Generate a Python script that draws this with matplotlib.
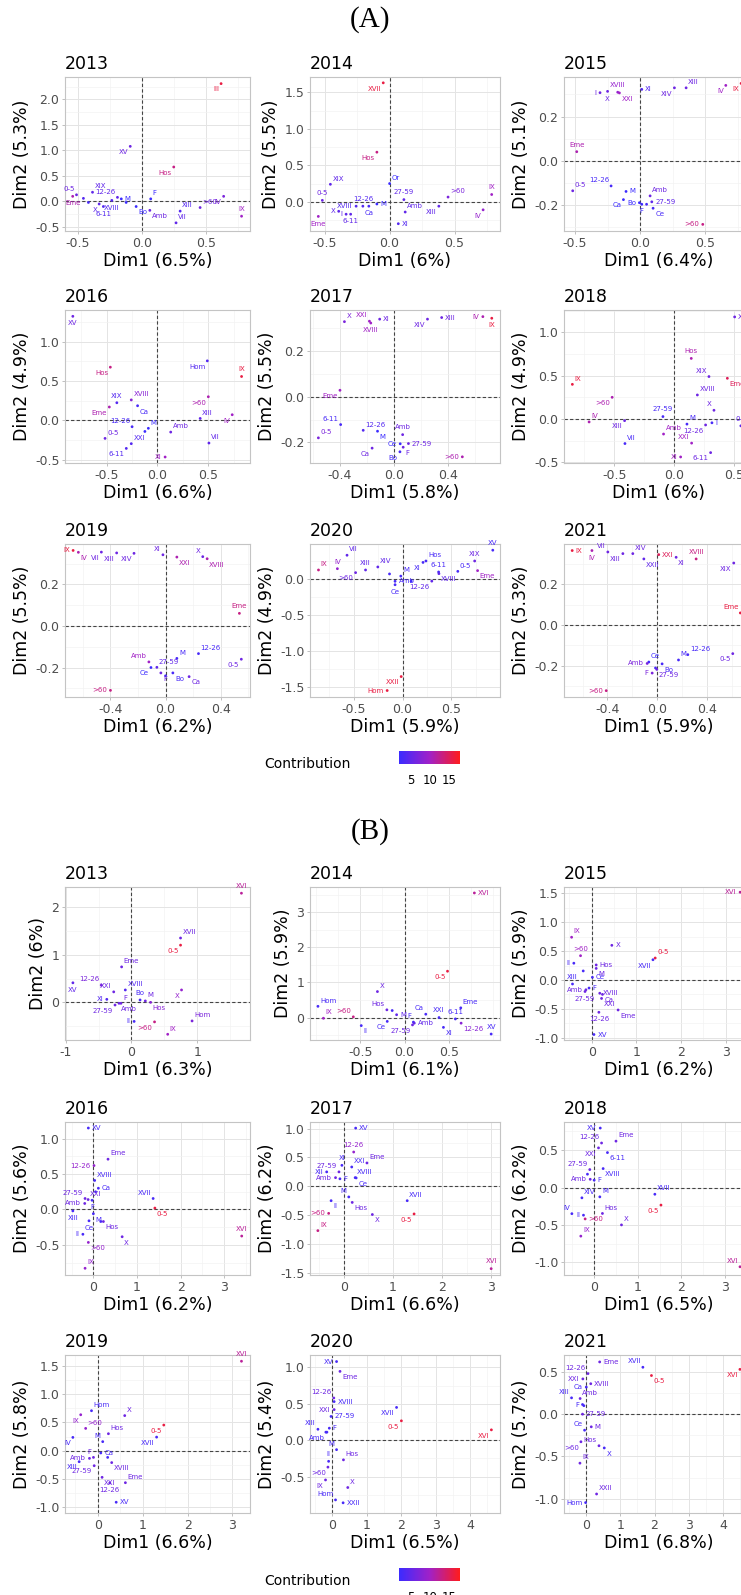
import numpy as np
import matplotlib
matplotlib.use("Agg")
import matplotlib.pyplot as plt
from matplotlib.colors import LinearSegmentedColormap, Normalize
from matplotlib.ticker import FixedLocator, AutoMinorLocator, FormatStrFormatter
import matplotlib.cm as cm

# ---------------- data: (label, Dim1, Dim2, contribution) ----------------
A2013 = [("III", 0.62, 2.31, 16), ("XV", -0.09, 1.08, 6), ("Hos", 0.25, 0.675, 13),
         ("XIX", -0.385, 0.18, 5), ("0-5", -0.51, 0.13, 6), ("Eme", -0.54, 0.10, 11),
         ("12-26", -0.19, 0.08, 5), ("M", -0.16, 0.05, 2), ("X", -0.333, -0.05, 5),
         ("XVIII", -0.234, 0.02, 4), ("6-11", -0.30, -0.10, 4), ("Bo", -0.044, -0.10, 2),
         ("F", 0.07, 0.05, 2), ("Amb", 0.063, -0.175, 6), ("XIII", 0.30, -0.19, 4),
         ("VII", 0.268, -0.42, 5), (">60", 0.456, -0.12, 6), ("IV", 0.64, 0.10, 7),
         ("IX", 0.78, -0.29, 10), ("", -0.456, 0.06, 4), ("", -0.417, -0.02, 3),
         ("", -0.122, -0.02, 2)]
A2013_pos = "dl dl dl ur ul d ul r dl d d dr ur dr ur ur ur dl u - - -"

A2014 = [("XVII", -0.049, 1.63, 16), ("Hos", -0.098, 0.68, 13), ("XIX", -0.456, 0.24, 5),
         ("Or", 0.0, 0.25, 2), ("0-5", -0.518, 0.02, 6), ("Eme", -0.549, -0.20, 10),
         ("X", -0.392, -0.13, 5), ("I", -0.335, -0.17, 5), ("6-11", -0.30, -0.17, 5),
         ("XVIII", -0.258, -0.06, 4), ("12-26", -0.206, -0.06, 4), ("Ca", -0.16, -0.06, 3),
         ("M", -0.098, -0.03, 2), ("27-59", 0.11, 0.03, 5), ("Amb", 0.12, -0.14, 5),
         ("XI", 0.067, -0.30, 4), ("XIII", 0.379, -0.06, 5), (">60", 0.45, 0.065, 7),
         ("IV", 0.72, -0.11, 9), ("IX", 0.786, 0.10, 10)]
A2014_pos = "dl dl ur ur u d l l d l u d r u ur r dl ur dl u"

A2015 = [("I", -0.308, 0.308, 6), ("X", -0.25, 0.314, 6), ("XVIII", -0.172, 0.31, 9),
         ("XXI", -0.159, 0.307, 10), ("XI", 0.013, 0.323, 4), ("XIV", 0.264, 0.33, 6),
         ("XIII", 0.354, 0.33, 6), ("IV", 0.659, 0.341, 10), ("IX", 0.777, 0.35, 16),
         ("Eme", -0.487, 0.041, 11), ("0-5", -0.518, -0.136, 6), ("12-26", -0.223, -0.114, 3),
         ("M", -0.108, -0.139, 2), ("Ca", -0.128, -0.176, 2), ("Bo", -0.005, -0.19, 2),
         ("F", 0.013, -0.197, 2), ("", 0.05, -0.197, 3), ("Amb", 0.077, -0.159, 6),
         ("27-59", 0.09, -0.186, 5), ("Ce", 0.10, -0.215, 3), (">60", 0.482, -0.288, 13)]
A2015_pos = "l d u dr r dl ur dl dl u ur ul r dl l d - ur r dr l"

A2016 = [("XV", -0.833, 1.32, 6), ("Hos", -0.464, 0.675, 13), ("Hom", 0.49, 0.755, 4),
         ("IX", 0.827, 0.557, 16), ("XIX", -0.40, 0.224, 4), ("XVIII", -0.258, 0.26, 8),
         ("Eme", -0.474, 0.17, 11), ("Ca", -0.196, 0.186, 3), (">60", 0.50, 0.30, 11),
         ("XIII", 0.42, 0.025, 5), ("IV", 0.735, 0.072, 10), ("12-26", -0.25, -0.08, 3),
         ("M", -0.09, -0.10, 2), ("", -0.124, -0.14, 2), ("XXI", -0.258, -0.295, 4),
         ("6-11", -0.307, -0.355, 4), ("0-5", -0.516, -0.228, 6), ("Amb", 0.13, -0.148, 6),
         ("VII", 0.506, -0.287, 5), ("XI", 0.075, -0.464, 10)]
A2016_pos = "d dl dl u u ur dl dr dl ur dl ul ur - ur dl ur ur ur l"

A2017 = [("X", -0.365, 0.328, 7), ("XXI", -0.18, 0.33, 10), ("XVIII", -0.17, 0.322, 10),
         ("XI", -0.104, 0.339, 6), ("XIV", 0.25, 0.339, 6), ("XIII", 0.355, 0.346, 6),
         ("IV", 0.66, 0.35, 11), ("IX", 0.726, 0.343, 16), ("Eme", -0.398, 0.028, 10),
         ("6-11", -0.393, -0.122, 3), ("12-26", -0.226, -0.147, 4), ("0-5", -0.558, -0.18, 7),
         ("M", -0.12, -0.151, 2), ("Ca", -0.16, -0.225, 6), ("Amb", 0.066, -0.166, 6),
         ("Ce", 0.048, -0.206, 2), ("F", 0.07, -0.221, 6), ("27-59", 0.109, -0.205, 6),
         ("Bo", 0.046, -0.241, 3), (">60", 0.508, -0.263, 11)]
A2017_pos = "ur ul d r dl r l d dl ul ur ur dr dl u l dr r dl l"

A2018 = [("XV", 0.508, 1.18, 6), ("IX", -0.85, 0.40, 16), ("Hos", 0.145, 0.70, 11),
         ("XIX", 0.293, 0.49, 6), ("Eme", 0.447, 0.47, 15), (">60", -0.517, 0.25, 11),
         ("XVIII", 0.196, 0.277, 6), ("X", 0.335, 0.10, 6), ("27-59", -0.092, 0.027, 3),
         ("IV", -0.71, -0.035, 11), ("XIII", -0.413, -0.02, 6), ("M", 0.109, -0.06, 3),
         ("12-26", 0.265, -0.07, 6), ("I", 0.318, -0.045, 3), ("0-5", 0.56, -0.08, 5),
         ("Amb", -0.087, -0.175, 10), ("VII", -0.41, -0.285, 3), ("XXI", 0.148, -0.28, 10),
         ("XI", 0.056, -0.44, 10), ("6-11", 0.307, -0.39, 6)]
A2018_pos = "r ur u ul dr dl ur ul u ur dl ur dl r u ur ur ul l dl"

A2019 = [("IX", -0.671, 0.364, 16), ("IV", -0.633, 0.355, 11), ("VII", -0.466, 0.356, 6),
         ("XIII", -0.355, 0.352, 6), ("XIV", -0.229, 0.35, 6), ("XI", -0.019, 0.343, 6),
         ("XXI", 0.082, 0.332, 11), ("X", 0.27, 0.334, 6), ("XVIII", 0.302, 0.324, 11),
         ("Eme", 0.536, 0.061, 13), ("12-26", 0.239, -0.133, 3), ("M", 0.082, -0.156, 3),
         ("0-5", 0.55, -0.16, 6), ("Amb", -0.121, -0.173, 10), ("27-59", -0.063, -0.199, 5),
         ("Ce", -0.106, -0.20, 2), ("F", -0.034, -0.226, 6), ("", 0.0, -0.24, 3),
         ("Bo", 0.053, -0.226, 3), ("Ca", 0.171, -0.244, 6), (">60", -0.40, -0.31, 13)]
A2019_pos = "l dr dl dl dl ul dr ul dr u ur ur dl ul ur dl dr - dr dr l"

A2020 = [("VII", -0.57, 0.33, 5), ("IX", -0.863, 0.125, 13), ("IV", -0.669, 0.143, 9),
         (">60", -0.482, 0.088, 6), ("XIII", -0.38, 0.125, 5), ("XIV", -0.254, 0.167, 5),
         ("", -0.134, 0.07, 3), ("M", -0.018, 0.04, 3), ("Amb", -0.077, -0.032, 3),
         ("Ce", -0.077, -0.08, 3), ("", 0.088, -0.032, 2), ("XI", 0.21, 0.23, 3),
         ("Hos", 0.24, 0.25, 3), ("12-26", 0.30, -0.03, 5), ("6-11", 0.37, 0.097, 3),
         ("XVIII", 0.373, 0.074, 5), ("0-5", 0.567, 0.106, 3), ("XIX", 0.74, 0.25, 6),
         ("XV", 0.926, 0.40, 3), ("Eme", 0.77, 0.116, 10), ("XXII", -0.014, -1.356, 16),
         ("Hom", -0.158, -1.55, 16)]
A2020_pos = "ur ur u dl u ur - ur r d - dl ur dl u dr ur u u dr dl l"

A2021 = [("IX", -0.684, 0.364, 16), ("IV", -0.525, 0.364, 11), ("VII", -0.397, 0.357, 6),
         ("XIII", -0.276, 0.349, 6), ("XIV", -0.196, 0.349, 6), ("XXII", -0.107, 0.323, 5),
         ("XXI", 0.013, 0.344, 15), ("XI", 0.153, 0.331, 6), ("XVIII", 0.314, 0.323, 13),
         ("XIX", 0.617, 0.303, 6), ("Eme", 0.67, 0.059, 16), ("12-26", 0.247, -0.145, 3),
         ("M", 0.172, -0.171, 3), ("0-5", 0.609, -0.14, 6), ("Ce", -0.067, -0.181, 2),
         ("Amb", -0.08, -0.188, 7), ("Bo", 0.04, -0.19, 3), ("", -0.013, -0.21, 3),
         ("F", -0.04, -0.235, 7), ("27-59", -0.003, -0.217, 6), (">60", -0.41, -0.321, 13)]
A2021_pos = "r d ul dl ur dr r dr u dl ul ur ur dl ur l dr - l dr l"

B2013 = [("XVI", 1.67, 2.29, 12), ("XVII", 0.745, 1.35, 6), ("0-5", 0.745, 1.20, 16),
         ("Eme", -0.15, 0.744, 6), ("XV", -0.89, 0.41, 5), ("12-26", -0.46, 0.36, 7),
         ("XXI", -0.27, 0.22, 6), ("XVIII", -0.094, 0.26, 4), ("XI", -0.375, 0.063, 4),
         ("X", 0.76, 0.26, 9), ("Bo", 0.13, 0.05, 3), ("M", 0.21, 0.03, 6),
         ("Hos", 0.29, 0.0, 8), ("F", -0.16, -0.02, 6), ("27-59", -0.25, -0.056, 6),
         ("Amb", -0.19, -0.02, 6), ("Hom", 0.92, -0.39, 7), ("II", 0.04, -0.40, 3),
         (">60", 0.35, -0.41, 13), ("IX", 0.55, -0.67, 10)]
B2013_pos = "u ur dl ur d ul ul ur l dl u ur dr ur dl dr ur l dl ur"

B2014 = [("XVI", 0.79, 3.55, 12), ("0-5", 0.486, 1.32, 16), ("X", -0.307, 0.74, 6),
         ("Hom", -0.98, 0.32, 3), ("Hos", -0.20, 0.22, 6), ("", -0.14, 0.20, 3),
         ("M", -0.09, 0.08, 5), ("IX", -0.918, -0.02, 10), (">60", -0.58, 0.02, 13),
         ("Ca", 0.24, 0.095, 3), ("XXI", 0.39, 0.0, 3), ("6-11", 0.575, -0.04, 3),
         ("Eme", 0.636, 0.276, 3), ("F", 0.1, -0.13, 3), ("Amb", 0.11, -0.16, 5),
         ("27-59", 0.09, -0.21, 6), ("II", -0.49, -0.23, 3), ("Ce", -0.196, -0.11, 3),
         ("XI", 0.44, -0.28, 3), ("12-26", 0.64, -0.16, 8), ("XV", 0.98, -0.47, 3)]
B2014_pos = "r dl ur ur ul - r ur ul ul u u ur ul r dl dr dl dr dr u"

B2015 = [("XVI", 3.32, 1.52, 12), ("IX", -0.45, 0.74, 10), ("X", 0.45, 0.60, 6),
         (">60", -0.25, 0.42, 10), ("0-5", 1.42, 0.38, 16), ("XVII", 1.37, 0.35, 3),
         ("II", -0.40, 0.29, 3), ("Hos", 0.10, 0.26, 6), ("M", 0.10, 0.20, 6),
         ("", -0.19, 0.156, 3), ("Ce", 0.015, 0.046, 3), ("XIII", -0.43, -0.07, 3),
         ("Amb", -0.13, -0.17, 6), ("F", -0.06, -0.14, 3), ("27-59", -0.15, -0.20, 6),
         ("XVIII", 0.18, -0.23, 6), ("XXI", 0.22, -0.32, 6), ("Ca", 0.24, -0.25, 6),
         ("Eme", 0.59, -0.52, 6), ("12-26", 0.16, -0.56, 6), ("XV", 0.05, -0.945, 3)]
B2015_pos = "l ur r u ur dl l r dr - r u l r d r dr dr dr d r"

B2016 = [("XV", -0.115, 1.15, 3), ("Eme", 0.336, 0.71, 6), ("12-26", 0.015, 0.62, 9),
         ("XVIII", 0.03, 0.41, 3), ("Ca", 0.115, 0.30, 3), ("", 0.05, 0.25, 3),
         ("27-59", -0.19, 0.155, 6), ("XXI", -0.12, 0.14, 6), ("F", -0.03, 0.13, 3),
         ("Amb", -0.198, 0.085, 6), ("XIII", -0.47, -0.02, 3), ("XVII", 1.37, 0.155, 3),
         ("0-5", 1.41, 0.02, 16), ("M", 0.0, -0.06, 3), ("Ce", -0.10, -0.16, 3),
         ("", 0.17, -0.17, 3), ("Hos", 0.23, -0.17, 6), ("X", 0.66, -0.385, 6),
         ("II", -0.24, -0.35, 3), (">60", -0.115, -0.465, 9), ("IX", -0.19, -0.83, 9),
         ("XVI", 3.40, -0.375, 12)]
B2016_pos = "r ur l ur r - ul ur d l d ul dr dr d - dr dr l dr ur u"

B2017 = [("XV", 0.24, 1.01, 3), ("12-26", 0.20, 0.595, 9), ("Eme", 0.47, 0.405, 6),
         ("XI", -0.04, 0.364, 3), ("XXI", 0.16, 0.335, 3), ("XVIII", 0.23, 0.15, 3),
         ("XII", -0.35, 0.25, 3), ("27-59", -0.10, 0.25, 6), ("Amb", -0.17, 0.15, 6),
         ("F", -0.08, 0.13, 3), ("Ce", 0.25, 0.145, 3), ("M", 0.10, -0.185, 3),
         ("II", -0.26, -0.25, 3), ("Hos", 0.17, -0.28, 6), ("XVII", 1.29, -0.25, 3),
         ("0-5", 1.43, -0.48, 16), ("X", 0.58, -0.49, 6), (">60", -0.31, -0.47, 13),
         ("IX", -0.53, -0.77, 13), ("XVI", 3.0, -1.43, 12)]
B2017_pos = "r u ur u ur ur l ul l r dr ul dr dr ur dl dr l ur u"

B2018 = [("XV", 0.14, 0.795, 3), ("12-26", 0.17, 0.595, 6), ("Eme", 0.50, 0.62, 6),
         ("XXI", 0.10, 0.53, 6), ("6-11", 0.305, 0.467, 3), ("27-59", -0.10, 0.24, 6),
         ("XVIII", 0.206, 0.253, 3), ("", -0.153, 0.178, 3), ("Amb", -0.09, 0.11, 6),
         ("F", 0.0, 0.098, 3), ("XIV", -0.28, -0.138, 3), ("M", 0.13, -0.125, 3),
         ("IV", -0.51, -0.35, 3), ("II", -0.244, -0.37, 3), ("Hos", 0.19, -0.347, 6),
         (">60", -0.206, -0.42, 13), ("XVII", 1.39, -0.09, 3), ("0-5", 1.53, -0.235, 16),
         ("X", 0.626, -0.50, 6), ("IX", -0.305, -0.65, 9), ("XVI", 3.34, -1.06, 12)]
B2018_pos = "l ul ur dl dr ul dr - l r ur ur ul l ur r ur dl ur ur ul"

B2019 = [("XVI", 3.2, 1.58, 12), ("Hom", -0.14, 0.706, 3), ("X", 0.6, 0.62, 6),
         ("IX", -0.38, 0.635, 9), (">60", -0.27, 0.394, 9), ("Hos", 0.237, 0.30, 6),
         ("0-5", 1.47, 0.453, 16), ("XVII", 1.31, 0.24, 3), ("IV", -0.555, 0.235, 3),
         ("M", 0.11, 0.16, 3), ("F", -0.096, -0.118, 6), ("Ca", 0.067, -0.04, 3),
         ("Amb", -0.185, -0.135, 6), ("XIII", -0.415, -0.194, 3), ("27-59", -0.08, -0.265, 6),
         ("", 0.22, -0.118, 3), ("XVIII", 0.31, -0.21, 6), ("XXI", 0.096, -0.47, 6),
         ("Eme", 0.615, -0.565, 6), ("12-26", 0.267, -0.57, 6), ("XV", 0.41, -0.91, 3)]
B2019_pos = "u ur ur dl ur ur dl dl dl ul ul r l dl dl - dr dr ur d r"

B2020 = [("XV", 0.13, 1.08, 3), ("Eme", 0.23, 0.945, 6), ("12-26", 0.05, 0.58, 6),
         ("XVIII", 0.06, 0.53, 3), ("XXI", 0.06, 0.42, 6), ("27-59", -0.03, 0.326, 3),
         ("XIII", -0.41, 0.15, 3), ("F", -0.08, 0.165, 3), ("", -0.18, 0.11, 3),
         ("Amb", -0.15, 0.11, 3), ("M", 0.13, -0.13, 3), ("II", -0.1, -0.29, 3),
         (">60", -0.12, -0.37, 6), ("Hos", 0.33, -0.27, 6), ("IX", -0.19, -0.546, 6),
         ("X", 0.455, -0.65, 6), ("Hom", 0.1, -0.82, 3), ("XXII", 0.32, -0.86, 3),
         ("XVII", 1.87, 0.45, 3), ("0-5", 2.01, 0.266, 16), ("XVI", 4.62, 0.142, 16)]
B2020_pos = "l dr ul r l r ul r - dl ul u dl ur dl ur ul r dl dl dl"

B2021 = [("Eme", 0.40, 0.618, 6), ("XVII", 1.66, 0.555, 3), ("0-5", 1.91, 0.457, 16),
         ("XVI", 4.49, 0.53, 16), ("12-26", 0.06, 0.48, 6), ("XXI", -0.09, 0.417, 6),
         ("XVIII", 0.14, 0.36, 6), ("Ca", 0.01, 0.32, 3), ("XIII", -0.42, 0.193, 3),
         ("Amb", -0.17, 0.185, 6), ("F", -0.1, 0.114, 3), ("", -0.06, 0.1, 3),
         ("27-59", -0.1, 0.0, 6), ("Ce", -0.04, -0.19, 3), ("M", 0.155, -0.15, 6),
         (">60", -0.146, -0.327, 6), ("Hos", 0.38, -0.374, 6), ("X", 0.534, -0.40, 3),
         ("IX", -0.175, -0.58, 6), ("XXII", 0.31, -0.945, 6), ("Hom", -0.01, -1.047, 3)]
B2021_pos = "r ul dr dl ul l r l ul ur l - r ul r dl ul dr ur ur l"

years = ["2013", "2014", "2015", "2016", "2017", "2018", "2019", "2020", "2021"]
dim1_A = ["6.5%", "6%", "6.4%", "6.6%", "5.8%", "6%", "6.2%", "5.9%", "5.9%"]
dim2_A = ["5.3%", "5.5%", "5.1%", "4.9%", "5.5%", "4.9%", "5.5%", "4.9%", "5.3%"]
dim1_B = ["6.3%", "6.1%", "6.2%", "6.2%", "6.6%", "6.5%", "6.6%", "6.5%", "6.8%"]
dim2_B = ["6%", "5.9%", "5.9%", "5.6%", "6.2%", "6.2%", "5.8%", "5.4%", "5.7%"]

data_A = [A2013, A2014, A2015, A2016, A2017, A2018, A2019, A2020, A2021]
pos_A = [A2013_pos, A2014_pos, A2015_pos, A2016_pos, A2017_pos, A2018_pos,
         A2019_pos, A2020_pos, A2021_pos]
data_B = [B2013, B2014, B2015, B2016, B2017, B2018, B2019, B2020, B2021]
pos_B = [B2013_pos, B2014_pos, B2015_pos, B2016_pos, B2017_pos, B2018_pos,
         B2019_pos, B2020_pos, B2021_pos]

# axis ranges / breaks: (xlim, ylim, xticks, yticks, x decimals, y decimals)
axes_A = [((-0.60, 0.846), (-0.58, 2.44), [-0.5, 0, 0.5], [-0.5, 0, 0.5, 1, 1.5, 2], 1, 1),
          ((-0.613, 0.85), (-0.40, 1.71), [-0.5, 0, 0.5], [0, 0.5, 1, 1.5], 1, 1),
          ((-0.585, 0.876), (-0.318, 0.379), [-0.5, 0, 0.5], [-0.2, 0, 0.2], 1, 1),
          ((-0.91, 0.91), (-0.54, 1.40), [-0.5, 0, 0.5], [-0.5, 0, 0.5, 1], 1, 1),
          ((-0.62, 0.787), (-0.29, 0.379), [-0.4, 0, 0.4], [-0.2, 0, 0.2], 1, 1),
          ((-0.92, 0.67), (-0.51, 1.26), [-0.5, 0, 0.5], [-0.5, 0, 0.5, 1], 1, 1),
          ((-0.73, 0.613), (-0.342, 0.395), [-0.4, 0, 0.4], [-0.2, 0, 0.2], 1, 1),
          ((-0.95, 1.0), (-1.64, 0.486), [-0.5, 0, 0.5], [-1.5, -1, -0.5, 0], 1, 1),
          ((-0.75, 0.78), (-0.352, 0.396), [-0.4, 0, 0.4], [-0.2, 0, 0.2], 1, 1)]
axes_B = [((-1.01, 1.80), (-0.79, 2.42), [-1, 0, 1], [0, 1, 2], 0, 0),
          ((-1.07, 1.08), (-0.64, 3.72), [-0.5, 0, 0.5], [0, 1, 2, 3], 1, 0),
          ((-0.62, 3.63), (-1.04, 1.61), [0, 1, 2, 3], [-1, -0.5, 0, 0.5, 1, 1.5], 0, 1),
          ((-0.65, 3.59), (-0.925, 1.235), [0, 1, 2, 3], [-0.5, 0, 0.5, 1], 0, 1),
          ((-0.69, 3.18), (-1.54, 1.116), [0, 1, 2, 3], [-1.5, -1, -0.5, 0, 0.5, 1], 0, 1),
          ((-0.69, 3.66), (-1.17, 0.876), [0, 1, 2, 3], [-1, -0.5, 0, 0.5], 0, 1),
          ((-0.73, 3.39), (-1.10, 1.69), [0, 1, 2, 3], [-1, -0.5, 0, 0.5, 1, 1.5], 0, 1),
          ((-0.64, 4.87), (-1.0, 1.17), [0, 1, 2, 3, 4], [-0.5, 0, 0.5, 1], 0, 1),
          ((-0.64, 4.90), (-1.17, 0.70), [0, 1, 2, 3, 4], [-1, -0.5, 0, 0.5], 0, 1)]

# ---------------- layout (pixels of the 741x1595 canvas) ----------------
W, H = 741, 1595
cols = [(65, 250), (310, 500), (564, 754)]
rows_A = [(77, 231), (310, 463), (544, 697)]
rows_B = [(887, 1040), (1122, 1275), (1355, 1513)]

cmap = LinearSegmentedColormap.from_list("contrib", ["#3b2bff", "#a021c8", "#ff1c1c"])
norm = Normalize(vmin=2.0, vmax=17.8)

OFF = {"u": (0, 3, "center", "bottom"), "d": (0, -3, "center", "top"),
       "l": (-2.5, 0, "right", "center"), "r": (2.5, 0, "left", "center"),
       "ul": (-1.5, 2, "right", "bottom"), "ur": (1.5, 2, "left", "bottom"),
       "dl": (-1.5, -2, "right", "top"), "dr": (1.5, -2, "left", "top")}

fig = plt.figure(figsize=(W / 100, H / 100), dpi=100)


def px_axes(c, r):
    x0, x1 = c
    y0, y1 = r
    return fig.add_axes([x0 / W, 1 - y1 / H, (x1 - x0) / W, (y1 - y0) / H])


def panel(ax, year, pts, pos, d1, d2, spec):
    xlim, ylim, xt, yt, xd, yd = spec
    codes = pos.split()
    assert len(codes) == len(pts), year
    ax.set_xlim(*xlim)
    ax.set_ylim(*ylim)
    ax.xaxis.set_major_locator(FixedLocator(xt))
    ax.yaxis.set_major_locator(FixedLocator(yt))
    ax.xaxis.set_minor_locator(AutoMinorLocator(2))
    ax.yaxis.set_minor_locator(AutoMinorLocator(2))
    ax.xaxis.set_major_formatter(FormatStrFormatter("%%.%df" % xd))
    ax.yaxis.set_major_formatter(FormatStrFormatter("%%.%df" % yd))
    ax.grid(True, which="major", color="#e4e4e4", lw=0.7, zorder=0)
    ax.grid(True, which="minor", color="#f2f2f2", lw=0.45, zorder=0)
    ax.set_axisbelow(True)
    for s in ax.spines.values():
        s.set_color("#c4c4c4")
        s.set_linewidth(0.8)
    ax.tick_params(which="major", length=2.5, width=0.6, color="#b5b5b5",
                   labelsize=9, labelcolor="#4d4d4d", pad=1.5)
    ax.tick_params(which="minor", length=0)
    ax.axhline(0, color="#444444", lw=0.8, ls=(0, (3, 2)), zorder=1)
    ax.axvline(0, color="#444444", lw=0.8, ls=(0, (3, 2)), zorder=1)

    xs = np.array([p[1] for p in pts])
    ys = np.array([p[2] for p in pts])
    cs = np.array([p[3] for p in pts])
    ax.scatter(xs, ys, s=4, c=cs, cmap=cmap, norm=norm, linewidths=0, zorder=3)
    for (lab, x, y, c), code in zip(pts, codes):
        if not lab or code == "-":
            continue
        dx, dy, ha, va = OFF[code]
        ax.annotate(lab, (x, y), xytext=(dx, dy), textcoords="offset points",
                    ha=ha, va=va, fontsize=5, color=cmap(norm(c)), zorder=4)

    ax.set_xlabel("Dim1 (%s)" % d1, fontsize=12.5, labelpad=2)
    ax.set_ylabel("Dim2 (%s)" % d2, fontsize=12.5, labelpad=3)
    ax.set_title(year, loc="left", fontsize=12.5, pad=6)


def block(rows, datas, poss, d1s, d2s, specs):
    for i in range(9):
        ax = px_axes(cols[i % 3], rows[i // 3])
        panel(ax, years[i], datas[i], poss[i], d1s[i], d2s[i], specs[i])


block(rows_A, data_A, pos_A, dim1_A, dim2_A, axes_A)
block(rows_B, data_B, pos_B, dim1_B, dim2_B, axes_B)

fig.text(370 / W, 1 - 20 / H, "(A)", fontsize=21, family="Liberation Serif",
         ha="center", va="center")
fig.text(370 / W, 1 - 832 / H, "(B)", fontsize=21, family="Liberation Serif",
         ha="center", va="center")


def legend(ybar):
    cax = fig.add_axes([399 / W, 1 - (ybar + 13) / H, 61 / W, 13 / H])
    cb = fig.colorbar(cm.ScalarMappable(norm=norm, cmap=cmap), cax=cax,
                      orientation="horizontal", ticks=[5, 10, 15])
    cb.outline.set_visible(False)
    cax.tick_params(length=2, width=0.6, color="white", labelsize=8.5, pad=5)
    fig.text(307 / W, 1 - (ybar + 13) / H, "Contribution", fontsize=10,
             ha="center", va="center")


legend(751)
legend(1568)

fig.savefig("out.png", dpi=100)
